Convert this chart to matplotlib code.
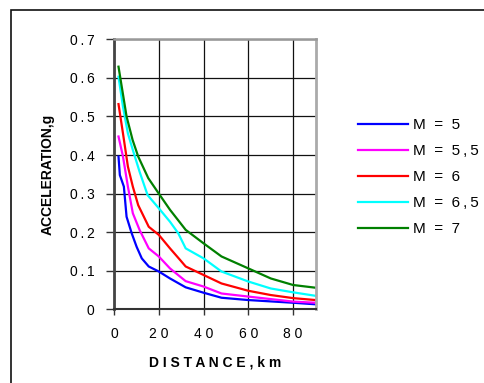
import numpy as np
import matplotlib.pyplot as plt
from matplotlib.patches import Rectangle

plt.rcParams['font.family'] = ['Liberation Sans', 'DejaVu Sans']

# Daten
dist_m5 = [2, 2.6, 4.4, 5.6, 7.9, 10.1, 12.4, 15.5, 20, 25, 32, 40, 48, 60, 80, 90]
acc_m5 = [0.396, 0.348, 0.318, 0.24, 0.197, 0.162, 0.132, 0.111, 0.098, 0.080,
          0.057, 0.043, 0.030, 0.024, 0.017, 0.013]

dist_m55 = [2, 4, 6.2, 8.4, 11.4, 15.5, 20, 25, 32, 40, 48, 60, 80, 90]
acc_m55 = [0.448, 0.396, 0.318, 0.249, 0.206, 0.158, 0.137, 0.106, 0.073,
           0.059, 0.041, 0.033, 0.020, 0.017]

dist_m6 = [2, 4, 6.2, 8.4, 10.8, 15.5, 20, 25, 29.5, 32, 40, 48, 60, 70, 80, 90]
acc_m6 = [0.532, 0.456, 0.37, 0.318, 0.270, 0.214, 0.193, 0.158, 0.128, 0.111,
          0.089, 0.067, 0.048, 0.037, 0.029, 0.024]

dist_m65 = [2, 4, 6.2, 8.4, 11.4, 15, 20, 25, 28.7, 32, 40, 48, 60, 70, 80, 90]
acc_m65 = [0.603, 0.525, 0.456, 0.413, 0.357, 0.296, 0.262, 0.227, 0.197,
           0.158, 0.132, 0.098, 0.072, 0.054, 0.044, 0.035]

dist_m7 = [2, 5.6, 8.3, 10.8, 15.3, 20, 25, 32, 40, 48, 60, 70, 80, 90]
acc_m7 = [0.629, 0.5, 0.439, 0.396, 0.34, 0.3, 0.258, 0.206, 0.171, 0.137,
          0.106, 0.080, 0.063, 0.056]

labels = ['M  =  5', 'M  =  5\u2009,\u20095', 'M  =  6', 'M  =  6\u2009,\u20095', 'M  =  7']
farben = ['#0000ff', '#ff00ff', '#ff0000', '#00ffff', '#008000']

fig = plt.figure(figsize=(4.85, 3.83), dpi=100)
fig.add_artist(Rectangle((11 / 485, -0.2), 1.2, 1.2 - 9.5 / 383,
                         transform=fig.transFigure, fill=False,
                         edgecolor='#111111', linewidth=1.2, clip_on=False))

ax = fig.add_axes([0.2351, 0.1924, 0.4155, 0.705])
serien = [(dist_m5, acc_m5), (dist_m55, acc_m55), (dist_m6, acc_m6),
          (dist_m65, acc_m65), (dist_m7, acc_m7)]
for (d, a), lab, c in zip(serien, labels, farben):
    ax.plot(d, a, color=c, linewidth=1.6, label=lab)

ax.set_xlim(0, 90)
ax.set_ylim(0, 0.7)
ax.set_xticks([0, 20, 40, 60, 80])
ax.set_xticklabels(['0', '2 0', '4 0', '6 0', '8 0'], fontsize=10)
yt = np.arange(0, 0.71, 0.1)
ax.set_yticks(yt)
ax.set_yticklabels(['0'] + ['0\u2009.\u2009%d' % i for i in range(1, 8)], fontsize=10)
ax.grid(True, color='#111111', linewidth=0.9)
ax.tick_params(axis='y', length=6, width=1, color='#333333', pad=8)
ax.tick_params(axis='x', length=4, width=1, color='#333333', pad=9)

ax.spines['left'].set_color('#444444')
ax.spines['left'].set_linewidth(2)
ax.spines['bottom'].set_color('#333333')
ax.spines['bottom'].set_linewidth(1.5)
ax.spines['top'].set_color('#999999')
ax.spines['top'].set_linewidth(1.8)
ax.spines['right'].set_color('#aaaaaa')
ax.spines['right'].set_linewidth(2)

ax.set_xlabel('D I S T A N C E , k m', fontsize=10, fontweight='bold', labelpad=10)
ax.set_ylabel('ACCELERATION,g', fontsize=10, fontweight='bold', labelpad=11)

fig.legend(loc='upper left', bbox_to_anchor=(0.709, 0.727), frameon=False,
           fontsize=11, handlelength=3.3, handletextpad=0.3, labelspacing=0.78)

plt.savefig('out.png', dpi=100)
